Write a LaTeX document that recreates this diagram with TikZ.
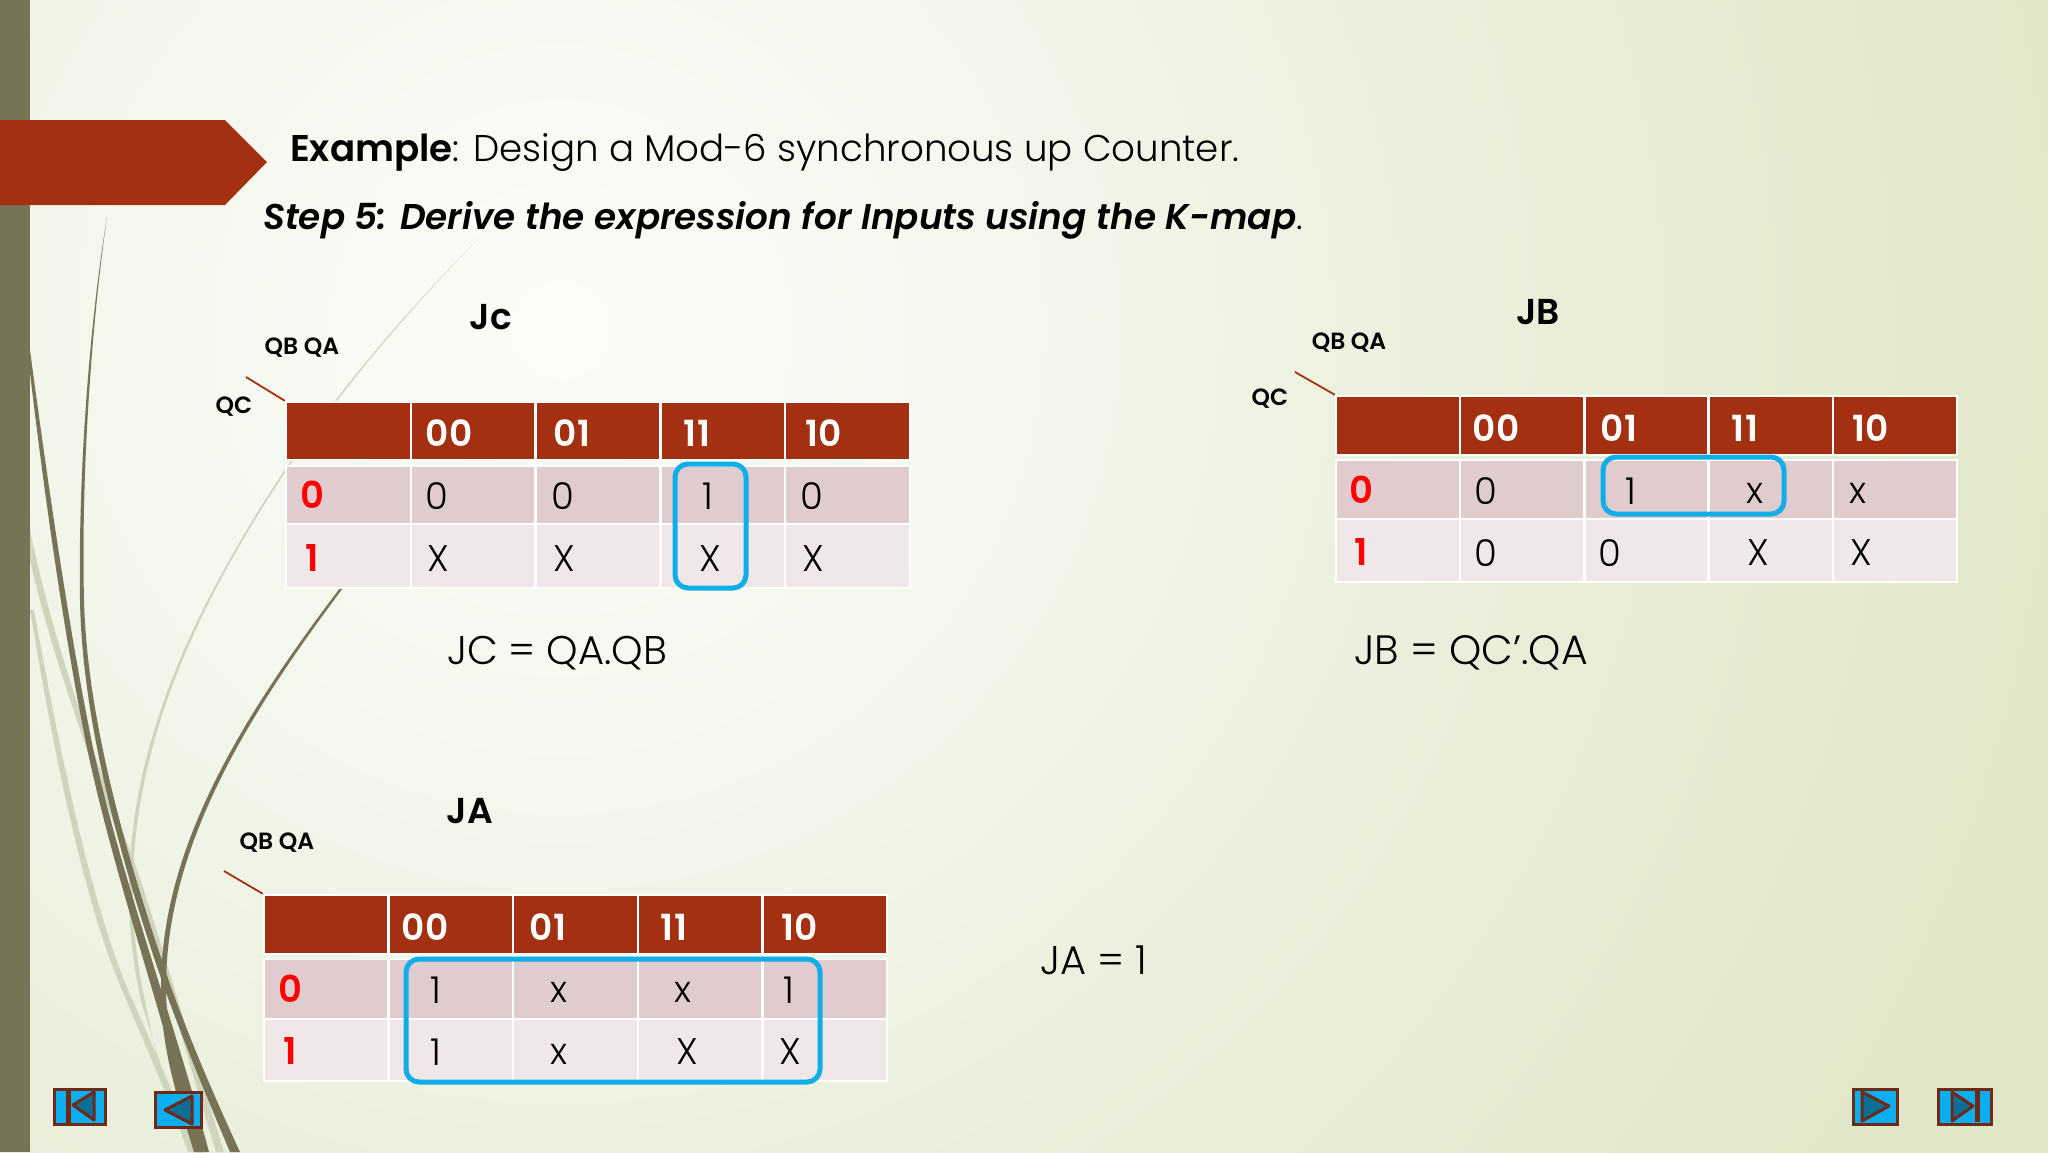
\documentclass[tikz,border=0pt]{standalone}
\usepackage{fontspec}
\setmainfont{Poppins Light}[BoldFont=Poppins SemiBold,BoldItalicFont=Poppins SemiBold Italic]
\definecolor{bgA}{HTML}{FBFCF8}\definecolor{bgB}{HTML}{F5F8EF}\definecolor{bgC}{HTML}{EBF0DD}
\definecolor{bgD}{HTML}{E2E8CB}\definecolor{bgE}{HTML}{DCE4BE}\definecolor{bgF}{HTML}{D8E2B8}
\definecolor{rust}{HTML}{A33010}\definecolor{rowA}{HTML}{E0CCCE}\definecolor{rowB}{HTML}{F0E7E8}
\definecolor{bar}{HTML}{787357}\definecolor{lightgrass}{HTML}{CFD4BC}
\definecolor{cyanbox}{HTML}{10AEE8}\definecolor{btnfill}{HTML}{0BAEEF}\definecolor{btnedge}{HTML}{6E2A15}\definecolor{btntri}{HTML}{0A6E96}
\pgfdeclareradialshading{bgshade}{\pgfpoint{0bp}{0bp}}{color(0bp)=(bgA);color(5.5bp)=(bgB);color(12bp)=(bgC);color(20bp)=(bgD);color(29bp)=(bgE);color(50bp)=(bgF)}
\newcommand{\fs}[1]{\fontsize{#1}{#1}\selectfont}
\tikzset{
  hcell/.style={rectangle,draw=white,line width=2.5pt,fill=rust,inner sep=0pt},
  acell/.style={rectangle,draw=white,line width=2.5pt,fill=rowA,inner sep=0pt},
  bcell/.style={rectangle,draw=white,line width=2.5pt,fill=rowB,inner sep=0pt},
  headtxt/.style={text=white,font=\fs{36}\bfseries,inner sep=0pt,xshift=1pt,yshift=-1.5pt},
  rowtxt/.style={text=red,font=\fs{37}\bfseries,inner sep=0pt},
  celltxt/.style={text=black,font=\fs{37},inner sep=0pt,xshift=1pt,yshift=-1pt},
  smalllbl/.style={text=black,font=\fs{23.5}\bfseries,inner sep=0pt},
  titlelbl/.style={text=black,font=\fs{36}\bfseries,inner sep=0pt},
  eqn/.style={text=black,font=\fs{40},inner sep=0pt,anchor=west,yshift=-2pt},
  groupbox/.style={rectangle,draw=cyanbox,line width=5pt,rounded corners=13pt,inner sep=0pt},
  corner/.style={draw=rust,line width=1.8pt},
  darkgrass/.style={fill=bar,draw=none},
  palegrass/.style={fill=lightgrass,draw=none},
  btn/.style={rectangle,draw=btnedge,line width=3pt,fill=btnfill,inner sep=0pt},
  btnglyph/.style={draw=btnedge,line width=3pt,fill=btntri,line join=round},
  btnbar/.style={fill=btnedge,draw=none}
}
% name, left, column width, top, header bottom, row-1 top, row-1 bottom, row-2 bottom
\newcommand{\kgrid}[8]{%
  \foreach \i in {0,...,4}{%
    \pgfmathsetmacro{\cx}{#2+(\i+0.5)*#3}%
    \pgfmathsetmacro{\ha}{#5-#4}\pgfmathsetmacro{\hb}{#7-#6}\pgfmathsetmacro{\hc}{#8-#7}%
    \pgfmathsetmacro{\ya}{(#4+#5)/2}\pgfmathsetmacro{\yb}{(#6+#7)/2}\pgfmathsetmacro{\yc}{(#7+#8)/2}%
    \node[hcell,minimum width=#3 pt,minimum height=\ha pt] (#1-h\i) at (\cx,\ya) {};
    \node[acell,minimum width=#3 pt,minimum height=\hb pt] (#1-a\i) at (\cx,\yb) {};
    \node[bcell,minimum width=#3 pt,minimum height=\hc pt] (#1-b\i) at (\cx,\yc) {};
  }%
}
\begin{document}
\begin{tikzpicture}[x=1pt,y=-1pt]
\useasboundingbox (0,0) rectangle (2048,1152);
\clip (0,0) rectangle (2048,1152);
\path[shading=bgshade] (560,330) circle [radius=1800];
% pale grass
\fill[palegrass] (480,237) .. controls (380,340) and (300,440) .. (240,545)
  .. controls (150,700) and (110,850) .. (146,1005) .. controls (152,1040) and (162,1080) .. (176,1110)
  .. controls (164,1080) and (154,1040) .. (142,1005) .. controls (106,850) and (147,700) .. (238,545)
  .. controls (298,440) and (378,340) .. (480,237) -- cycle;
\fill[palegrass] (30,560) .. controls (50,650) and (90,760) .. (129,864) .. controls (155,940) and (185,1050) .. (216,1152)
  -- (224,1152) .. controls (192,1050) and (161,940) .. (135,864) .. controls (96,760) and (55,650) .. (30,530) -- cycle;
\fill[palegrass] (30,610) .. controls (50,730) and (80,890) .. (120,985) .. controls (145,1045) and (170,1100) .. (188,1152)
  -- (196,1152) .. controls (177,1100) and (152,1045) .. (126,985) .. controls (87,890) and (56,730) .. (34,610) -- cycle;
% dark grass
\fill[darkgrass] (107,217) .. controls (90,320) and (78,470) .. (80,600) .. controls (82,720) and (120,860) .. (164,987) .. controls (185,1045) and (208,1100) .. (230,1152)
  -- (240,1152) .. controls (216,1100) and (192,1045) .. (171,987) .. controls (127,860) and (87,720) .. (84,600) .. controls (81,470) and (92,320) .. (107,217) -- cycle;
\fill[darkgrass] (30,373) .. controls (45,500) and (65,640) .. (87,748) .. controls (115,880) and (165,1020) .. (197,1152)
  -- (209,1152) .. controls (174,1020) and (122,880) .. (93,748) .. controls (71,640) and (50,500) .. (30,350) -- cycle;
\fill[darkgrass] (340,588) .. controls (240,720) and (160,850) .. (161,990) .. controls (161,1050) and (178,1100) .. (194,1152)
  -- (202,1152) .. controls (185,1100) and (167,1050) .. (166,990) .. controls (165,850) and (244,720) .. (343,588) -- cycle;
% banner
\fill[bar] (0,0) rectangle (30,1152);
\fill[rust] (0,120) -- (225,120) -- (267,162) -- (225,205) -- (0,205) -- cycle;
% heading
\node[anchor=west,inner sep=0pt,font=\fs{37.2}] (head1) at (290,152) {\textbf{Example}: Design a Mod-6 synchronous up Counter.};
\node[anchor=west,inner sep=0pt,font=\fs{35.8}] (head2) at (263,220) {\textbf{\itshape Step 5: Derive the expression for Inputs using the K-map}.};
% JC
\kgrid{jc}{286}{124.8}{402}{460}{466}{524}{588}
\coordinate (jc-c) at (246,377);
\draw[corner] (jc-c) -- (jc-h0.north west);
\node[titlelbl] (jc-title) at (491,317) {Jc};
\node[smalllbl] (jc-qq) at (302,348) {QB QA};
\node[smalllbl] (jc-qc) at (234,407) {QC};
\foreach \x/\t [count=\n] in {448/00,571/01,696/11,823/10}{\node[headtxt] (jc-hh\n) at (\x,432) {\t};}
\node[rowtxt] (jc-r0) at (312,495) {0};
\node[rowtxt] (jc-r1) at (312,558) {1};
\foreach \x/\t [count=\n] in {436/0,562/0,707/1,811/0}{\node[celltxt] (jc-p\n) at (\x,495) {\t};}
\foreach \x/\t [count=\n] in {437/X,563/X,709/X,812/X}{\node[celltxt] (jc-q\n) at (\x,558) {\t};}
\node[groupbox,minimum width=71pt,minimum height=124pt] (jc-g) at (710.5,526) {};
\node[eqn] (jc-eq) at (447,651) {JC = QA.QB};
% JB
\kgrid{jb}{1336}{124.2}{396}{455}{460}{519}{582}
\coordinate (jb-c) at (1295,372);
\draw[corner] (jb-c) -- (jb-h0.north west);
\node[titlelbl] (jb-title) at (1538,312) {JB};
\node[smalllbl] (jb-qq) at (1349,343) {QB QA};
\node[smalllbl] (jb-qc) at (1270,399) {QC};
\foreach \x/\t [count=\n] in {1495/00,1618/01,1744/11,1870/10}{\node[headtxt] (jb-hh\n) at (\x,427) {\t};}
\node[rowtxt] (jb-r0) at (1361,490) {0};
\node[rowtxt] (jb-r1) at (1361,552) {1};
\foreach \x/\t [count=\n] in {1485/0,1630/1}{\node[celltxt] (jb-p\n) at (\x,490) {\t};}
\foreach \x/\t [count=\n] in {1754/x,1857/x}{\node[celltxt] (jb-px\n) at (\x,492) {\t};}
\foreach \x/\t [count=\n] in {1485/0,1609/0,1757/X,1860/X}{\node[celltxt] (jb-q\n) at (\x,552) {\t};}
\node[groupbox,minimum width=181pt,minimum height=57pt] (jb-g) at (1693.5,485.5) {};
\node[eqn,font=\fs{41}] (jb-eq) at (1354,651) {JB = QC’.QA};
% JA
\kgrid{ja}{264}{124.6}{895}{954}{959}{1019}{1081}
\coordinate (ja-c) at (224,871);
\draw[corner] (ja-c) -- (ja-h0.north west);
\node[titlelbl] (ja-title) at (470,811) {JA};
\node[smalllbl] (ja-qq) at (277,843) {QB QA};
\foreach \x/\t [count=\n] in {424/00,547/01,673/11,799/10}{\node[headtxt] (ja-hh\n) at (\x,926) {\t};}
\node[rowtxt] (ja-r0) at (290,989) {0};
\node[rowtxt] (ja-r1) at (290,1051) {1};
\foreach \x/\t [count=\n] in {435/1,788/1}{\node[celltxt] (ja-p\n) at (\x,989) {\t};}
\foreach \x/\t [count=\n] in {558/x,682/x}{\node[celltxt] (ja-px\n) at (\x,991) {\t};}
\foreach \x/\t/\y [count=\n] in {435/1/1051,558/x/1053,686/X/1051,789/X/1051}{\node[celltxt] (ja-q\n) at (\x,\y) {\t};}
\node[groupbox,minimum width=414pt,minimum height=123pt] (ja-g) at (613,1020.5) {};
\node[eqn] (ja-eq) at (1040,958) {JA = 1};
% buttons
\node[btn,minimum width=51pt,minimum height=35pt] (b1) at (80,1107) {};
\fill[btnbar] (66,1091) rectangle (71,1123);
\draw[btnglyph] (73,1105) -- (94,1092) -- (94,1120) -- cycle;
\node[btn,minimum width=46pt,minimum height=35pt] (b2) at (178.5,1109.5) {};
\draw[btnglyph] (165,1110) -- (192,1096) -- (192,1124) -- cycle;
\node[btn,minimum width=44pt,minimum height=35pt] (b3) at (1875.5,1106.5) {};
\draw[btnglyph] (1862,1092) -- (1889,1106) -- (1862,1121) -- cycle;
\node[btn,minimum width=53pt,minimum height=35pt] (b4) at (1965,1106.5) {};
\draw[btnglyph] (1952,1092) -- (1973,1106) -- (1952,1121) -- cycle;
\fill[btnbar] (1975,1091) rectangle (1980,1122);
\end{tikzpicture}
\end{document}
